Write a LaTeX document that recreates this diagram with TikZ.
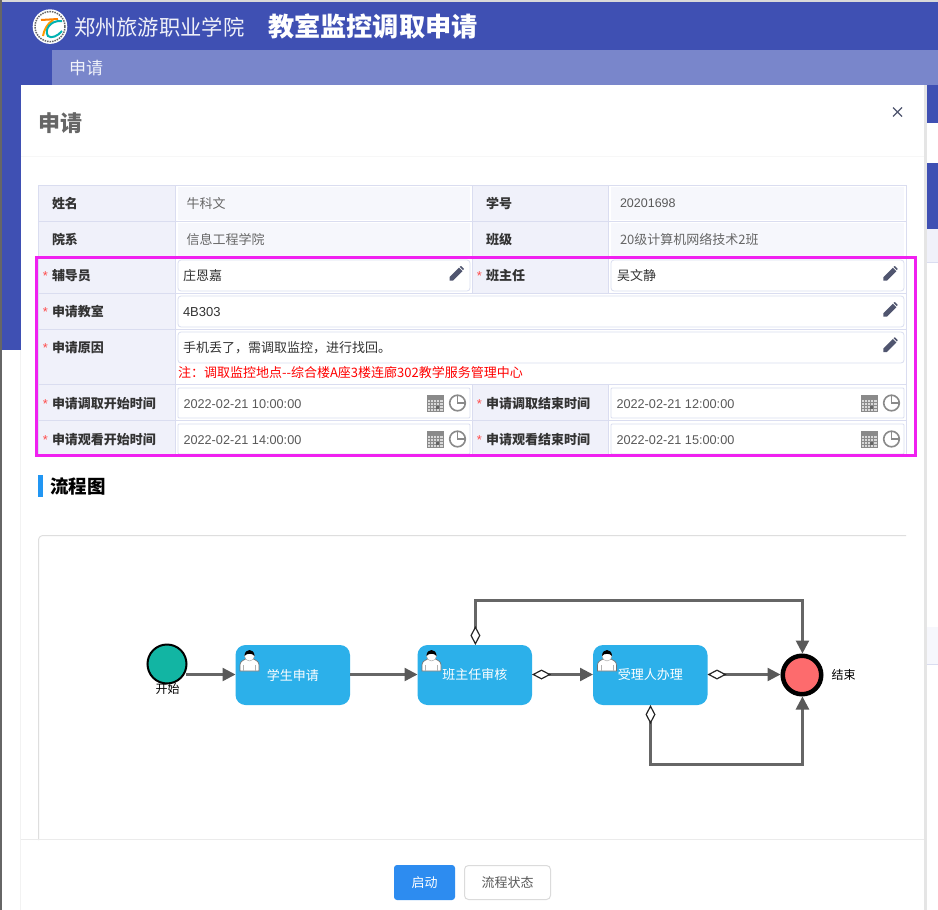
\documentclass[tikz,border=0pt]{standalone}
\usepackage{fontspec}
\setmainfont{Noto Sans CJK SC}
\newfontfamily\lat{Liberation Sans}
\usetikzlibrary{arrows.meta}
\definecolor{hdrblue}{HTML}{3F50B3}
\definecolor{subblue}{HTML}{7986CB}
\definecolor{cellbg}{HTML}{F0F1FA}
\definecolor{roval}{HTML}{F6F7FC}
\definecolor{gridc}{HTML}{DADDF0}
\definecolor{magen}{HTML}{F020F0}
\definecolor{icongr}{HTML}{50556F}
\definecolor{clockgr}{HTML}{8A8A8A}
\definecolor{taskc}{HTML}{2CB0EA}
\definecolor{linec}{HTML}{666666}
\definecolor{tipc}{HTML}{595959}
\definecolor{barc}{HTML}{2196F3}
\newcommand{\fs}[1]{\fontsize{#1}{#1}\selectfont}
\tikzset{
  txt/.style={inner sep=0,anchor=west,outer sep=0,yshift=-0.6},
  labtxt/.style={txt,font=\fs{13}\bfseries,text=black!80},
  rotxt/.style={txt,font=\fs{13},text=black!60},
  intxt/.style={txt,font=\fs{13},text=black!80},
  datetxt/.style={txt,font=\lat\fs{12.7},text=black!65},
  startxt/.style={inner sep=0,font=\lat\fs{13},text=red!70!white},
  inbox/.style={draw=gridc,fill=white,rounded corners=3,line width=.8},
  taskbox/.style={rectangle,rounded corners=10,fill=taskc,minimum width=114.5,minimum height=60,inner sep=0,outer sep=0,text=white,font=\fs{13}},
  flow/.style={draw=linec,line width=2.4,-{Triangle[length=13,width=13,color=tipc,fill=tipc]}},
  flowd/.style={draw=linec,line width=2.4,{Diamond[open,length=19,width=10,line width=1.2,color=black!85,fill=white]}-{Triangle[length=13,width=13,color=tipc,fill=tipc]}},
  penicon/.pic={
    \fill[icongr] (-7,7)--(-7,3.5)--(2.5,-6)--(6,-2.5)--(-3.5,7)--cycle;
    \fill[icongr] (3.2,-6.9)--(4.5,-7.7)--(7.4,-4.8)--(6.6,-3.5)--cycle;
  },
  calicon/.pic={
    \fill[black!15] (0,-8) rectangle (16,8);
    \fill[clockgr] (0,-8) rectangle (16,-3.5);
    \draw[clockgr,line width=.5] (0,-8) rectangle (16,8);
    \foreach \q in {3,6,9,12} \draw[clockgr,line width=.4] (\q,-3.5)--(\q,8);
    \foreach \q in {-0.5,2.5,5.5} \draw[clockgr,line width=.4] (0,\q)--(16,\q);
    \fill[black!60] (9,3) rectangle (12,5.5);
  },
  clockicon/.pic={
    \draw[clockgr,line width=1.6] (0,0) circle (7.8);
    \draw[clockgr,line width=1.6] (0,-7.8)--(0,0)--(7.8,0);
  },
  usericon/.pic={
    \fill[white,draw=black!55,line width=.7] (-9.5,11)--(-9.5,5) .. controls (-9.5,1.5) and (-6,0) .. (-4,-1)--(4,-1) .. controls (6,0) and (9.5,1.5) .. (9.5,5)--(9.5,11)--cycle;
    \fill[white,draw=black!40,line width=.4] (0,-4) circle (5);
    \fill[black] (-5,-4) .. controls (-5,-12) and (5,-12) .. (5,-4) .. controls (3,-7) and (-3,-7) .. (-5,-4)--cycle;
    \draw[black!30,line width=.5] (-6,11)--(-6,5) (6,11)--(6,5);
  },
}
\newcommand{\lblstar}[4]{\node[labtxt] (#1) at (#2,#3) {#4};\node[startxt] (#1s) at ([xshift=-6.5]#1.west) {*};}
\newcommand{\datefield}[5]{%
  \draw[inbox,rounded corners=1] (#2,#3) rectangle (#4,#3+30);
  \node[datetxt] (#1) at (#2+5.5,#3+15.2) {#5};
  \pic at (#4-43,#3+15) {calicon};
  \pic at (#4-12.5,#3+15) {clockicon};
}
\begin{document}
\begin{tikzpicture}[x=1pt,y=-1pt]
\useasboundingbox (0,0) rectangle (938,910);
\fill[white] (0,0) rectangle (938,910);
% page behind the dialog
\fill[hdrblue] (0,2) rectangle (938,350);
\fill[white] (21,85) rectangle (938,350);
\fill[hdrblue] (924,85) rectangle (938,123);
\fill[hdrblue] (924,163) rectangle (938,229);
\fill[cellbg] (924,229) rectangle (938,262);
\draw[gridc,line width=.8] (924,262)--(938,262);
\fill[roval] (924,627) rectangle (938,664);
\draw[gridc,line width=.8] (924,664)--(938,664);
\fill[black!15] (0,0) rectangle (938,2);
\fill[black!60] (0,0) rectangle (1.5,910);
\fill[subblue] (52,50) rectangle (938,85);
\node[txt,font=\fs{17},text=white!90!subblue] (subtitle) at (69,67) {申请};
% header
\fill[white] (50,26.6) circle (17.3);
\draw[black!60,line width=1.5,dash pattern=on 1.5 off 1] (50,26.6) circle (15);
\draw[orange,line width=2] (41,20) -- (58,19);
\draw[orange!80!yellow,line width=2] (53,20) .. controls (47,24) and (44,30) .. (43,36);
\draw[teal!60!cyan,line width=2] (62,21) .. controls (50,20) and (44,30) .. (48,36) .. controls (51,39) and (58,36) .. (62,31);
\node[txt,font=\fs{21.3},text=white!92!hdrblue] (school) at (74,27) {郑州旅游职业学院};
\node[txt,font=\fs{26.2}\bfseries,text=white] (apptitle) at (268,26) {教室监控调取申请};
% dialog
\fill[black!5] (19.5,350) rectangle (21,910);
\fill[black!10] (924,85) rectangle (927,910);
\fill[white] (21,85) rectangle (924,910);
\node[txt,font=\fs{22}\bfseries,text=black!60] (dlgtitle) at (38.5,122.5) {申请};
\draw[icongr,line width=1.3] (893,107.5)--(902,116.5) (902,107.5)--(893,116.5);
\draw[black!3,line width=1] (21,156.5)--(924,156.5);
% table: label cells
\fill[cellbg] (38,185) rectangle (175,456);
\fill[cellbg] (472,185) rectangle (608,293);
\fill[cellbg] (472,384) rectangle (608,456);
\fill[roval] (178,187) rectangle (470,220);
\fill[roval] (178,223) rectangle (470,256);
\fill[roval] (611,187) rectangle (904,220);
\fill[roval] (611,223) rectangle (904,256);
\draw[gridc,line width=.9] (38,185) rectangle (906.5,456);
\foreach \q in {221,257,293,329,384,420} \draw[gridc,line width=.9] (38,\q)--(906.5,\q);
\draw[gridc,line width=.9] (175.5,185)--(175.5,456);
\draw[gridc,line width=.9] (472.5,185)--(472.5,293) (472.5,384)--(472.5,456);
\draw[gridc,line width=.9] (608.5,185)--(608.5,293) (608.5,384)--(608.5,456);
% readonly rows
\node[labtxt] (lname) at (52,203) {姓名};
\node[rotxt] (vname) at (186.5,203) {牛科文};
\node[labtxt] (lno) at (486,203) {学号};
\node[datetxt,font=\lat\fs{12.5}] (vno) at (620,203) {20201698};
\node[labtxt] (ldept) at (52,239) {院系};
\node[rotxt] (vdept) at (186.5,239) {信息工程学院};
\node[labtxt] (lclass) at (486,239) {班级};
\node[rotxt] (vclass) at (620,239) {20级计算机网络技术2班};
% editable rows
\lblstar{lfd}{52}{275}{辅导员}
\draw[inbox] (178,260) rectangle (470,291);
\node[intxt] (vfd) at (183,275) {庄恩嘉};
\pic at (456.5,273.7) {penicon};
\lblstar{lbzr}{486}{275}{班主任}
\draw[inbox] (611,260) rectangle (904,291);
\node[intxt] (vbzr) at (617,275) {吴文静};
\pic at (890.3,273.7) {penicon};
\lblstar{lroom}{52}{311}{申请教室}
\draw[inbox] (178,296) rectangle (904,327);
\node[intxt,font=\lat\fs{13}] (vroom) at (183,311) {4B303};
\pic at (890.3,309.7) {penicon};
\lblstar{lwhy}{52}{347}{申请原因}
\draw[inbox] (178,332) rectangle (904,363);
\node[intxt] (vwhy) at (183,347) {手机丢了，需调取监控，进行找回。};
\pic at (890.3,345) {penicon};
\node[txt,font=\fs{13},text=red] (note) at (178,372) {注：调取监控地点-{}-综合楼A座3楼连廊302教学服务管理中心};
\lblstar{lts}{52}{403}{申请调取开始时间}
\datefield{vts}{178}{388}{470}{2022-02-21 10:00:00}
\lblstar{lte}{486}{403}{申请调取结束时间}
\datefield{vte}{611}{388}{904}{2022-02-21 12:00:00}
\lblstar{lvs}{52}{439}{申请观看开始时间}
\datefield{vvs}{178}{424}{470}{2022-02-21 14:00:00}
\lblstar{lve}{486}{439}{申请观看结束时间}
\datefield{vve}{611}{424}{904}{2022-02-21 15:00:00}
\draw[magen,line width=3] (36.5,257.5) rectangle (915.5,455.5);
% heading
\fill[barc] (38,475) rectangle (43,497);
\node[txt,font=\fs{18.5}\bfseries,text=black] (flowhead) at (50,486) {流程图};
% flow panel
\draw[black!13,line width=1] (38.5,840) -- (38.5,541) .. controls (38.5,537) and (40.5,535.5) .. (44,535.5) -- (906,535.5);
\draw[black!8,line width=1] (21,839.5)--(924,839.5);
% flow nodes
\node[circle,draw=black,line width=2,fill={rgb,255:red,18;green,181;blue,163},minimum size=39,inner sep=0,outer sep=1] (start) at (167,664) {};
\node[inner sep=0,font=\fs{12},text=black] (startl) at (167.5,689) {开始};
\node[taskbox] (t1) at (292.75,675) {学生申请};
\node[taskbox] (t2) at (474.75,675) {班主任审核};
\node[taskbox] (t3) at (650.25,675) {受理人办理};
\pic at ([xshift=14,yshift=-15]t1.north west) {usericon};
\pic at ([xshift=14,yshift=-15]t2.north west) {usericon};
\pic at ([xshift=14,yshift=-15]t3.north west) {usericon};
\node[circle,draw=black,line width=4.5,fill={rgb,255:red,253;green,107;blue,109},minimum size=38.5,inner sep=0,outer sep=2.25] (end) at (802,675) {};
\node[inner sep=0,font=\fs{12},text=black] (endl) at (843.5,675) {结束};
\coordinate (startout) at (start.east |- t1.west);
\draw[flow] ([xshift=-2,yshift=.5]startout) -- ([yshift=.5]t1.west);
\draw[flow] ([yshift=.5]t1.east) -- ([yshift=.5]t2.west);
\draw[flowd] ([yshift=.5]t2.east) -- ([yshift=.5]t3.west);
\draw[flowd] ([yshift=.5]t3.east) -- ([yshift=.5]end.west);
\coordinate (topbend) at ([xshift=.65]t2.north |- 0,600.5);
\coordinate (botbend) at ([xshift=.25]t3.south |- 0,764.5);
\draw[flowd] ([xshift=.65]t2.north) -- (topbend) -| ([xshift=.45]end.north);
\draw[flowd] ([xshift=.25]t3.south) -- (botbend) -| ([xshift=.45]end.south);
% buttons
\node[rectangle,rounded corners=3,fill={rgb,255:red,45;green,140;blue,240},text=white,font=\fs{13},minimum width=61,minimum height=35,inner sep=0] (btnstart) at (424.5,882.5) {启动};
\node[rectangle,rounded corners=4,draw=black!14,line width=1,fill=white,text=black!65,font=\fs{13},minimum width=86,minimum height=34,inner sep=0] (btnstate) at (507.5,882.5) {流程状态};
\end{tikzpicture}
\end{document}
